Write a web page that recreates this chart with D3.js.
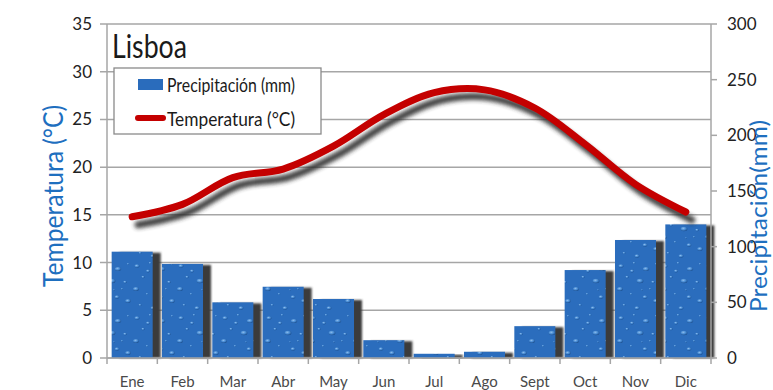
<!DOCTYPE html>
<html>
<head>
<meta charset="utf-8">
<script src="https://cdn.jsdelivr.net/npm/d3@7"></script>
<style>
  html, body { margin: 0; padding: 0; background: #fff; }
  svg { display: block; }
  text { font-family: Lato, "Open Sans", sans-serif; }
</style>
</head>
<body>
<svg id="chart" width="773" height="390"></svg>
<script>
// Lisboa climate: monthly precipitation (mm) and mean temperature (°C)
const months = ["Ene", "Feb", "Mar", "Abr", "May", "Jun", "Jul", "Ago", "Sept", "Oct", "Nov", "Dic"];
const precipitation = [95.5, 84.5, 50, 64, 53, 16, 3.8, 5.6, 28.6, 79, 106, 120];
const temperature = [14.8, 16.1, 18.9, 19.8, 22.2, 25.5, 27.8, 28.1, 26.2, 22.4, 18.2, 15.3];
const tempTicks = [0, 5, 10, 15, 20, 25, 30, 35];
const precTicks = [0, 50, 100, 150, 200, 250, 300];

const svg = d3.select("#chart");
const plotL = 107, plotR = 711, plotT = 24, plotB = 358;

const x = d3.scaleBand().domain(months).range([plotL, plotR]).padding(0);
const yT = d3.scaleLinear().domain([0, 35]).range([plotB, plotT]);
const yP = d3.scaleLinear().domain([0, 300]).range([plotB, plotT]);

const defs = svg.append("defs");

// soft shadows
const fBar = defs.append("filter").attr("id", "barShadow").attr("x", "-20%").attr("y", "-20%").attr("width", "140%").attr("height", "140%");
fBar.append("feGaussianBlur").attr("stdDeviation", 0.8);
const fLine = defs.append("filter").attr("id", "lineShadow").attr("x", "-10%").attr("y", "-20%").attr("width", "120%").attr("height", "140%");
fLine.append("feGaussianBlur").attr("stdDeviation", 2.2);

// water-drop texture for the bars
const dropGrad = defs.append("radialGradient").attr("id", "drop").attr("cx", "40%").attr("cy", "35%").attr("r", "65%");
dropGrad.append("stop").attr("offset", "0%").attr("stop-color", "#9cc8f2");
dropGrad.append("stop").attr("offset", "50%").attr("stop-color", "#4f93da");
dropGrad.append("stop").attr("offset", "100%").attr("stop-color", "#1a4d8c");

const pat = defs.append("pattern").attr("id", "water")
  .attr("patternUnits", "userSpaceOnUse").attr("width", 44).attr("height", 52);
pat.append("rect").attr("width", 44).attr("height", 52).attr("fill", "#2b6dbd");
const drops = [
  [5, 6, 2.6, 1.8], [18, 3, 1.3, 1.1], [30, 9, 3.2, 2.1], [40, 4, 1.1, 1],
  [11, 17, 1.6, 1.2], [24, 21, 3.4, 2.2], [37, 22, 1.8, 1.3], [4, 29, 3, 2],
  [15, 34, 1.2, 1], [29, 37, 2.4, 1.7], [40, 41, 2.8, 1.9], [8, 45, 1.5, 1.1],
  [21, 48, 2.5, 1.7], [34, 29, 1.1, 0.9], [16, 11, 2, 1.4], [26, 30, 1, 0.8]
];
drops.forEach(d => {
  pat.append("ellipse").attr("cx", d[0]).attr("cy", d[1]).attr("rx", d[2]).attr("ry", d[3])
    .attr("fill", "url(#drop)").attr("opacity", 0.85);
});

// horizontal grid
const gridCol = "#a6a6a6";
svg.append("g").selectAll("line").data(tempTicks).join("line")
  .attr("x1", plotL - 7).attr("x2", plotR)
  .attr("y1", d => yT(d)).attr("y2", d => yT(d))
  .attr("stroke", gridCol).attr("stroke-width", 1.5);

// bar shadows
const barW = x.bandwidth() * 0.815;
svg.append("g").selectAll("rect").data(months).join("rect")
  .attr("x", (m) => x(m) + (x.bandwidth() - barW) / 2 + 8)
  .attr("y", (m, i) => yP(precipitation[i]) + 1)
  .attr("width", barW)
  .attr("height", (m, i) => plotB - yP(precipitation[i]) - 1)
  .attr("fill", "#3b3b3b")
  .attr("filter", "url(#barShadow)");

// bars
svg.append("g").selectAll("rect").data(months).join("rect")
  .attr("x", (m) => x(m) + (x.bandwidth() - barW) / 2)
  .attr("y", (m, i) => yP(precipitation[i]))
  .attr("width", barW)
  .attr("height", (m, i) => plotB - yP(precipitation[i]))
  .attr("fill", "url(#water)");

// axes frame
svg.append("line").attr("x1", plotL).attr("x2", plotL).attr("y1", plotT).attr("y2", plotB)
  .attr("stroke", gridCol).attr("stroke-width", 1.5);
svg.append("line").attr("x1", plotR).attr("x2", plotR).attr("y1", plotT).attr("y2", plotB)
  .attr("stroke", gridCol).attr("stroke-width", 1.5);
svg.append("line").attr("x1", plotL).attr("x2", plotR).attr("y1", plotB).attr("y2", plotB)
  .attr("stroke", gridCol).attr("stroke-width", 1.5);

// x ticks at category boundaries
const bounds = months.map(m => x(m)).concat([plotR]);
svg.append("g").selectAll("line").data(bounds).join("line")
  .attr("x1", d => d).attr("x2", d => d).attr("y1", plotB).attr("y2", plotB + 6)
  .attr("stroke", gridCol).attr("stroke-width", 1.5);

svg.append("g").selectAll("text").data(months).join("text")
  .attr("x", m => x(m) + x.bandwidth() / 2).attr("y", 387)
  .attr("text-anchor", "middle").attr("font-size", 15).attr("fill", "#4a4a4a")
  .text(m => m);

// left temperature tick labels
svg.append("g").selectAll("text").data(tempTicks).join("text")
  .attr("x", 92).attr("y", d => yT(d) + 6)
  .attr("text-anchor", "end").attr("font-size", 17).attr("fill", "#222")
  .text(d => d);

// right precipitation ticks and labels
svg.append("g").selectAll("line").data(precTicks).join("line")
  .attr("x1", plotR).attr("x2", plotR + 6).attr("y1", d => yP(d)).attr("y2", d => yP(d))
  .attr("stroke", gridCol).attr("stroke-width", 1.5);
svg.append("g").selectAll("text").data(precTicks).join("text")
  .attr("x", 727).attr("y", d => yP(d) + 6)
  .attr("text-anchor", "start").attr("font-size", 17).attr("fill", "#222")
  .text(d => d);

// temperature line with drop shadow
const line = d3.line()
  .x((d, i) => x(months[i]) + x.bandwidth() / 2)
  .y(d => yT(d))
  .curve(d3.curveCatmullRom.alpha(0.5));

svg.append("path").datum(temperature)
  .attr("d", line).attr("transform", "translate(6,8)")
  .attr("fill", "none").attr("stroke", "#2e2e2e").attr("stroke-width", 7)
  .attr("stroke-linecap", "round").attr("opacity", 0.9)
  .attr("filter", "url(#lineShadow)");
svg.append("path").datum(temperature)
  .attr("d", line)
  .attr("fill", "none").attr("stroke", "#c40000").attr("stroke-width", 7)
  .attr("stroke-linecap", "round");

// title
svg.append("text").attr("x", 112).attr("y", 58)
  .attr("font-size", 33).attr("fill", "#1a1a1a")
  .attr("textLength", 75).attr("lengthAdjust", "spacingAndGlyphs")
  .text("Lisboa");

// legend
const lg = svg.append("g");
lg.append("rect").attr("x", 114).attr("y", 68).attr("width", 207).attr("height", 66)
  .attr("fill", "#fff").attr("stroke", "#8a8a8a").attr("stroke-width", 1.3);
lg.append("rect").attr("x", 138).attr("y", 79).attr("width", 25).attr("height", 11)
  .attr("fill", "#2a6cbc");
lg.append("text").attr("x", 167).attr("y", 92).attr("font-size", 19).attr("fill", "#1a1a1a")
  .attr("textLength", 128).attr("lengthAdjust", "spacingAndGlyphs")
  .text("Precipitación (mm)");
lg.append("line").attr("x1", 138).attr("x2", 163).attr("y1", 118).attr("y2", 118)
  .attr("stroke", "#c40000").attr("stroke-width", 6).attr("stroke-linecap", "round");
lg.append("text").attr("x", 167).attr("y", 126).attr("font-size", 19).attr("fill", "#1a1a1a")
  .attr("textLength", 128).attr("lengthAdjust", "spacingAndGlyphs")
  .text("Temperatura (°C)");

// axis titles
svg.append("text")
  .attr("transform", "translate(63,196) rotate(-90)")
  .attr("text-anchor", "middle").attr("font-size", 26).attr("fill", "#1e6fbf")
  .attr("textLength", 182).attr("lengthAdjust", "spacingAndGlyphs")
  .text("Temperatura (°C)");
svg.append("text")
  .attr("transform", "translate(767,216) rotate(-90)")
  .attr("text-anchor", "middle").attr("font-size", 23).attr("fill", "#1e6fbf")
  .attr("textLength", 192).attr("lengthAdjust", "spacingAndGlyphs")
  .text("Precipitación(mm)");
</script>
</body>
</html>
